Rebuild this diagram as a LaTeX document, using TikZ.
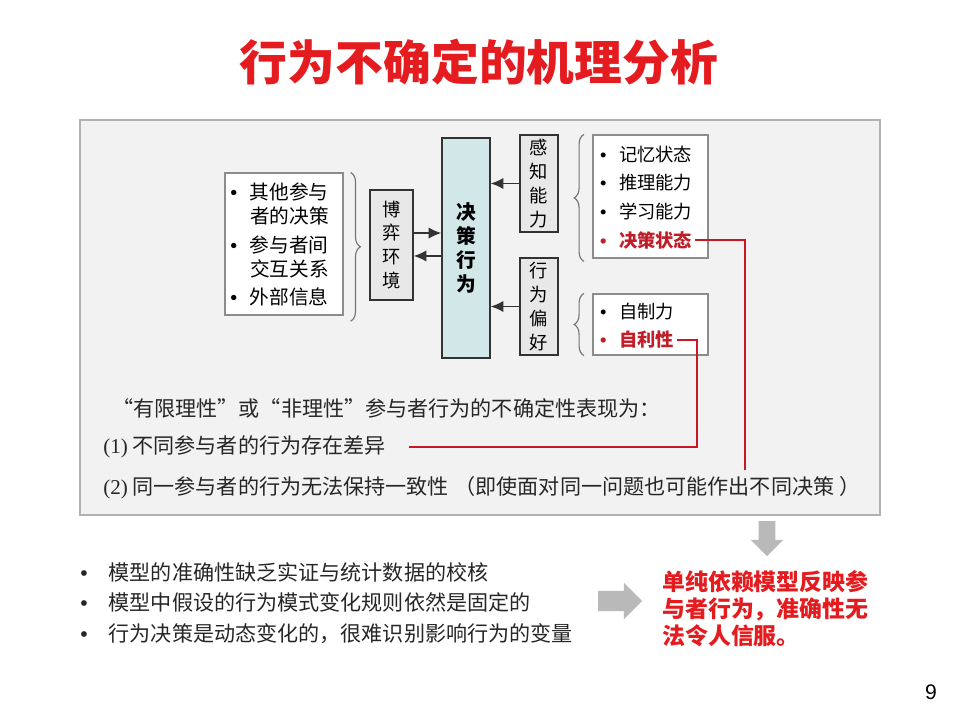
\documentclass[tikz,border=0pt]{standalone}
\usepackage{fontspec}
\setmainfont{Noto Sans CJK SC}
\newfontfamily\numfont{Liberation Serif}
\newfontfamily\pagefont{Liberation Sans}
\usepackage{xcolor}
\usetikzlibrary{arrows.meta, decorations.pathreplacing, shapes.arrows, positioning}

\definecolor{titlered}{RGB}{228,28,32}
\definecolor{keyred}{RGB}{192,30,40}
\definecolor{linered}{RGB}{200,25,35}
\definecolor{panelgray}{RGB}{242,242,242}
\definecolor{boxgray}{RGB}{232,232,232}
\definecolor{decfill}{RGB}{210,232,232}
\definecolor{arrowgray}{RGB}{185,185,185}

\newcommand{\dotmark}{{\pagefont\textbullet}}

\begin{document}
\begin{tikzpicture}[x=0.025cm, y=-0.025cm,
    listbox/.style={draw=black!45, fill=white, line width=0.8pt},
    vbox/.style={draw=black!80, fill=boxgray, line width=1pt, align=center, inner sep=0pt,
      font=\fontsize{13}{17}\selectfont},
    item/.style={anchor=west, inner sep=2pt, font=\fontsize{13}{16}\selectfont},
    keyitem/.style={item, text=keyred, font=\fontsize{13}{16}\selectfont\bfseries},
    leftitem/.style={anchor=west, inner sep=0pt, font=\fontsize{14}{17}\selectfont},
    arr/.style={draw=black!80, line width=1pt, -{Latex[length=9pt, width=8pt]}},
    redline/.style={draw=linered, line width=1.4pt},
    curly/.style={draw=black!55, line width=0.8pt, decorate, decoration={brace, amplitude=7pt}},
    body/.style={anchor=west, inner sep=0pt, font=\fontsize{15}{18}\selectfont, text=black!85},
    blockarrow/.style={single arrow, fill=arrowgray, draw=none, single arrow head indent=0pt},
  ]
    \useasboundingbox (0,0) rectangle (960,720);

    % Title
    \node[font=\fontsize{34}{40}\selectfont\bfseries, text=titlered] (title) at (479,62) {行为不确定的机理分析};

    % Gray panel behind the diagram
    \draw[fill=panelgray, draw=black!30, line width=1pt] (80,120) rectangle (880,515);

    % Boxes
    \node[listbox, minimum width=2.95cm, minimum height=3.55cm] (others) at (284,244) {};
    \node[vbox, minimum width=1.075cm, minimum height=2.75cm] (game) at (391.5,245) {博\\弈\\环\\境};
    \node[vbox, fill=decfill, minimum width=1.2cm, minimum height=5.5cm,
      font=\fontsize{14}{17}\selectfont\bfseries] (dec) at (466,248) {决\\策\\行\\为};
    \node[vbox, minimum width=0.95cm, minimum height=2.425cm] (perceive) at (539,183.5) {感\\知\\能\\力};
    \node[vbox, minimum width=0.95cm, minimum height=2.425cm] (pref) at (539,306.5) {行\\为\\偏\\好};
    \node[listbox, minimum width=2.875cm, minimum height=3.075cm] (ability) at (650.5,196.5) {};
    \node[listbox, minimum width=2.875cm, minimum height=1.525cm] (trait) at (650.5,324.5) {};

    % Left list
    \node[leftitem] (o1) at (230,192) {\dotmark\hspace{9pt}其他参与};
    \node[leftitem] (o2) at (250,216) {者的决策};
    \node[leftitem] (o3) at (230,245) {\dotmark\hspace{9pt}参与者间};
    \node[leftitem] (o4) at (250,269) {交互关系};
    \node[leftitem] (o5) at (230,297) {\dotmark\hspace{9pt}外部信息};

    % Right lists
    \node[item] (memory) at (597,155) {\dotmark\hspace{9pt}记忆状态};
    \node[item] (reason) at (597,183) {\dotmark\hspace{9pt}推理能力};
    \node[item] (learn) at (597,212) {\dotmark\hspace{9pt}学习能力};
    \node[keyitem] (state) at (597,240) {\dotmark\hspace{9pt}决策状态};
    \node[item] (control) at (597,312) {\dotmark\hspace{9pt}自制力};
    \node[keyitem] (selfish) at (597,340) {\dotmark\hspace{9pt}自利性};

    % Braces
    \draw[curly] ([xshift=5pt]others.north east) -- ([xshift=5pt,yshift=-4pt]others.south east);
    \draw[curly] ([xshift=-6pt,yshift=-2pt]ability.south west) -- ([xshift=-6pt]ability.north west);
    \draw[curly] ([xshift=-6pt]trait.south west) -- ([xshift=-6pt]trait.north west);

    % Arrows into and out of the decision box
    \draw[arr] ([yshift=8.5pt]game.east) -- ([yshift=8.5pt]game.east -| dec.west);
    \draw[arr] ([yshift=-7.8pt]game.east -| dec.west) -- ([yshift=-7.8pt]game.east);
    \draw[arr] (perceive.west) -- (perceive.west -| dec.east);
    \draw[arr] (pref.west) -- (pref.west -| dec.east);

    % Text in the panel
    \node[body] (ratio) at (112,408) {“有限理性”或“非理性”参与者行为的不确定性表现为：};
    \node[body] (diff) at (103,447) {{\numfont (1)} 不同参与者的行为存在差异};
    \node[body] (same) at (103,488) {{\numfont (2)} 同一参与者的行为无法保持一致性\hspace{4pt}（即使面对同一问题也可能作出不同决策\hspace{4pt}）};

    % Red connectors
    \coordinate (turnA) at (745,470);
    \coordinate (turnB) at (697,447);
    \draw[redline] (state.east) -| (turnA);
    \draw[redline] (selfish.east) -| (turnB) -- ([xshift=16pt]diff.east);

    % Gray block arrows
    \node[blockarrow, shape border rotate=270, minimum height=0.875cm, inner sep=5.7pt,
      single arrow head extend=5.7pt] (down) at (767,534.5) {};
    \node[blockarrow, minimum height=1.1cm, inner sep=7pt,
      single arrow head extend=5.7pt] (right) at (615,601) {};

    % Bottom list
    \node[body] (b1) at (80,572) {\dotmark\hspace{15pt}模型的准确性缺乏实证与统计数据的校核};
    \node[body] (b2) at (80,602) {\dotmark\hspace{15pt}模型中假设的行为模式变化规则依然是固定的};
    \node[body] (b3) at (80,634) {\dotmark\hspace{15pt}行为决策是动态变化的，很难识别影响行为的变量};

    % Conclusion
    \node[anchor=west, inner sep=0pt, align=left, text=titlered,
      font=\fontsize{16.3}{19.2}\selectfont\bfseries] (result) at (662,609)
      {单纯依赖模型反映参\\与者行为，准确性无\\法令人信服。};

    % Page number
    \node[font=\pagefont\fontsize{15}{18}\selectfont] (page) at (931,692) {9};
\end{tikzpicture}
\end{document}
